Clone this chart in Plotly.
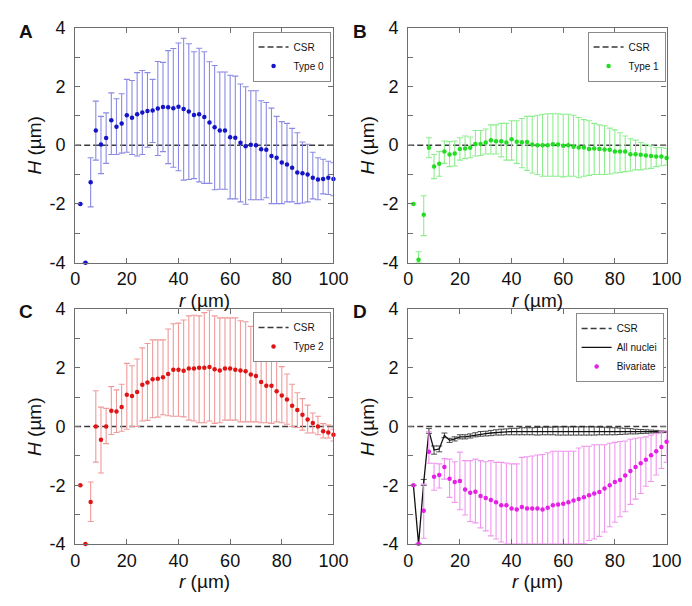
import plotly.graph_objects as go

# ---------------- data ----------------
r = [2, 4, 6, 8, 10, 12, 14, 16, 18, 20, 22, 24, 26, 28, 30, 32, 34, 36, 38, 40,
     42, 44, 46, 48, 50, 52, 54, 56, 58, 60, 62, 64, 66, 68, 70, 72, 74, 76, 78, 80,
     82, 84, 86, 88, 90, 92, 94, 96, 98, 100]
csr_r = [0, 100]
csr_h = [0, 0]

type0_h = [-2.0, -4.0, -1.26, 0.5, 0.02, 0.24, 0.85, 0.63, 0.74, 1.02, 0.93, 1.05, 1.11, 1.16, 1.18, 1.25, 1.3, 1.29, 1.26, 1.31,
           1.23, 1.15, 1.03, 1.05, 0.96, 0.77, 0.61, 0.5, 0.5, 0.27, 0.25, 0.08, -0.04, 0.01, 0.0, -0.14, -0.16, -0.37, -0.43, -0.59,
           -0.66, -0.77, -0.93, -0.96, -1.0, -1.11, -1.17, -1.15, -1.11, -1.15]
type0_hi = [-2.0, -4.0, -0.43, 1.5, 0.98, 1.1, 1.78, 1.58, 1.75, 2.24, 2.2, 2.47, 2.54, 2.47, 2.24, 2.85, 2.82, 3.22, 3.29, 3.48,
            3.64, 3.45, 3.18, 3.3, 3.18, 2.84, 2.71, 2.49, 2.49, 2.38, 2.35, 2.08, 1.99, 1.85, 1.85, 1.51, 1.45, 1.26, 0.98, 0.8,
            0.74, 0.57, 0.42, 0.11, 0.03, -0.24, -0.43, -0.48, -0.55, -0.6]
type0_lo = [-2.0, -4.0, -2.1, -0.51, -0.97, -0.62, -0.32, -0.32, -0.27, -0.24, -0.32, -0.37, -0.32, -0.07, 0.09, -0.35, -0.22, -0.63, -0.75, -0.87,
            -1.19, -1.17, -1.14, -1.25, -1.3, -1.3, -1.52, -1.5, -1.5, -1.83, -1.83, -1.93, -2.01, -1.86, -1.86, -1.86, -1.79, -1.99, -1.99, -1.99,
            -1.93, -1.93, -1.99, -1.97, -1.93, -1.83, -1.86, -1.66, -1.68, -1.72]

type1_h = [-2.0, -3.9, -2.37, -0.09, -0.73, -0.63, -0.22, -0.32, -0.28, -0.13, -0.11, -0.09, 0.04, 0.04, 0.09, 0.17, 0.13, 0.13, 0.09, 0.2,
           0.12, 0.1, 0.11, 0.02, 0.0, 0.0, 0.0, 0.03, 0.02, -0.02, 0.0, -0.05, -0.08, -0.08, -0.13, -0.11, -0.13, -0.15, -0.16, -0.22,
           -0.22, -0.22, -0.31, -0.31, -0.33, -0.35, -0.37, -0.39, -0.39, -0.44]
type1_hi = [-2.0, -3.63, -1.72, 0.25, -0.32, -0.22, 0.14, 0.12, 0.14, 0.25, 0.31, 0.28, 0.5, 0.5, 0.55, 0.69, 0.69, 0.74, 0.74, 0.83,
            0.83, 0.91, 0.98, 0.98, 1.02, 1.05, 1.07, 1.07, 1.07, 1.05, 1.05, 1.02, 0.94, 0.87, 0.83, 0.74, 0.69, 0.66, 0.58, 0.52,
            0.42, 0.31, 0.22, 0.17, 0.09, 0.03, -0.02, -0.08, -0.08, -0.11]
type1_lo = [-2.0, -4.0, -3.08, -0.43, -1.14, -1.06, -0.62, -0.73, -0.71, -0.51, -0.46, -0.43, -0.37, -0.35, -0.3, -0.3, -0.3, -0.4, -0.51, -0.51,
            -0.62, -0.77, -0.86, -0.95, -1.0, -1.06, -1.06, -1.06, -1.06, -1.08, -1.06, -1.06, -1.11, -1.06, -1.03, -1.0, -1.0, -1.0, -0.98, -0.95,
            -0.93, -0.9, -0.88, -0.84, -0.84, -0.81, -0.79, -0.73, -0.7, -0.68]

type2_h = [-2.0, -4.0, -2.57, 0.0, -0.45, 0.0, 0.54, 0.51, 0.67, 1.08, 1.04, 1.18, 1.42, 1.5, 1.61, 1.63, 1.68, 1.79, 1.93, 1.93,
           1.9, 1.98, 1.98, 2.0, 2.0, 2.03, 1.95, 1.91, 1.98, 1.98, 1.93, 1.91, 1.88, 1.77, 1.72, 1.52, 1.39, 1.39, 1.2, 1.06,
           0.92, 0.71, 0.56, 0.4, 0.24, 0.12, 0.0, -0.16, -0.2, -0.28]
type2_hi = [-2.0, -4.0, -1.89, 1.22, 0.66, 0.62, 1.36, 1.25, 1.44, 2.15, 2.07, 2.3, 2.68, 2.83, 2.95, 2.95, 2.95, 3.32, 3.5, 3.52,
            3.63, 3.77, 3.79, 3.77, 3.88, 3.96, 3.77, 3.7, 3.7, 3.7, 3.7, 3.6, 3.57, 3.41, 3.19, 2.92, 2.79, 2.57, 2.28, 2.04,
            1.79, 1.44, 1.15, 0.95, 0.73, 0.46, 0.35, 0.1, 0.05, -0.09]
type2_lo = [-2.0, -4.0, -3.23, -1.21, -1.58, -0.58, -0.27, -0.2, -0.16, -0.09, 0.0, 0.0, 0.19, 0.21, 0.3, 0.32, 0.4, 0.37, 0.35, 0.35,
            0.33, 0.22, 0.19, 0.13, 0.13, 0.19, 0.11, 0.13, 0.22, 0.22, 0.22, 0.16, 0.16, 0.16, 0.16, 0.13, 0.13, 0.11, 0.16, 0.13,
            0.08, 0.0, -0.03, -0.12, -0.22, -0.22, -0.28, -0.39, -0.39, -0.49]

all_h = [-2.0, -4.0, -1.9, -0.15, -0.8, -0.76, -0.3, -0.47, -0.42, -0.35, -0.35, -0.32, -0.28, -0.25, -0.24, -0.22, -0.2, -0.19, -0.18, -0.17,
         -0.17, -0.16, -0.16, -0.16, -0.16, -0.15, -0.15, -0.15, -0.15, -0.15, -0.15, -0.15, -0.15, -0.15, -0.15, -0.15, -0.15, -0.15, -0.16, -0.16,
         -0.16, -0.16, -0.16, -0.17, -0.17, -0.17, -0.17, -0.17, -0.18, -0.18]
all_err = [0.0, 0.0, 0.1, 0.08, 0.14, 0.1, 0.08, 0.07, 0.07, 0.07, 0.07, 0.07, 0.07, 0.08, 0.08, 0.09, 0.09, 0.1, 0.1, 0.11,
           0.11, 0.12, 0.12, 0.12, 0.13, 0.13, 0.13, 0.13, 0.14, 0.14, 0.14, 0.14, 0.14, 0.14, 0.14, 0.14, 0.13, 0.13, 0.12, 0.12,
           0.11, 0.1, 0.09, 0.08, 0.07, 0.06, 0.05, 0.04, 0.03, 0.02]

biv_h = [-2.0, -3.99, -2.87, -0.86, -1.71, -1.65, -1.38, -1.78, -1.89, -1.85, -2.14, -2.25, -2.22, -2.36, -2.43, -2.5, -2.58, -2.68, -2.68, -2.79,
         -2.82, -2.74, -2.79, -2.79, -2.79, -2.82, -2.76, -2.68, -2.65, -2.63, -2.58, -2.52, -2.47, -2.41, -2.34, -2.28, -2.23, -2.11, -2.0, -1.89,
         -1.82, -1.67, -1.51, -1.38, -1.25, -1.13, -0.98, -0.84, -0.7, -0.52]
biv_hi = [-2.0, -3.99, -1.96, -0.18, -1.25, -1.27, -1.09, -1.11, -1.2, -0.87, -1.16, -1.16, -1.11, -1.16, -1.2, -1.16, -1.22, -1.22, -1.24, -1.27,
          -1.27, -1.05, -1.03, -1.0, -0.97, -0.95, -0.89, -0.84, -0.84, -0.84, -0.84, -0.84, -0.73, -0.67, -0.67, -0.62, -0.62, -0.62, -0.57, -0.54,
          -0.51, -0.49, -0.43, -0.4, -0.38, -0.35, -0.29, -0.24, -0.18, -0.15]
biv_lo = [-2.0, -3.99, -3.8, -1.25, -2.17, -2.09, -1.79, -2.41, -2.58, -2.83, -3.01, -3.23, -3.28, -3.45, -3.55, -3.72, -3.83, -3.93, -4.0, -4.0,
          -4.0, -4.0, -4.0, -4.0, -4.0, -4.0, -4.0, -4.0, -4.0, -4.0, -4.0, -4.0, -3.99, -3.99, -3.88, -3.83, -3.74, -3.59, -3.41, -3.26,
          -3.07, -2.9, -2.65, -2.47, -2.28, -2.03, -1.87, -1.65, -1.43, -1.22]

panel_letters = ["A", "B", "C", "D"]
y_tick_vals = [-4, -3, -2, -1, 0, 1, 2, 3, 4]
y_tick_text = ["-4", "", "-2", "", "0", "", "2", "", "4"]
x_tick_vals = [0, 20, 40, 60, 80, 100]

# ---------------- layout geometry (pixels) ----------------
W, H = 692, 606
FONT = "Arial, Liberation Sans, sans-serif"
AX = "#6e6e6e"


def px_x(x):
    return x / W


def px_y(y):
    return 1 - y / H


panels = [
    dict(x0=64, x1=330, y0=10, y1=253),
    dict(x0=407, x1=673, y0=10, y1=253),
    dict(x0=64, x1=330, y0=301, y1=544),
    dict(x0=407, x1=673, y0=301, y1=544),
]

fig = go.Figure()


def err(h, hi, lo):
    plus = [b - a for a, b in zip(h, hi)]
    minus = [a - b for a, b in zip(h, lo)]
    return plus, minus


def add_csr(i):
    ax = "" if i == 0 else str(i + 1)
    fig.add_trace(go.Scatter(
        x=csr_r, y=csr_h, mode="lines", name="CSR",
        line=dict(color="#3a3a3a", width=1.5, dash="6px,3px"),
        xaxis="x" + ax, yaxis="y" + ax, legend="legend" + ax,
    ))


def add_points(i, h, hi, lo, name, mcol, ecol):
    ax = "" if i == 0 else str(i + 1)
    plus, minus = err(h, hi, lo)
    fig.add_trace(go.Scatter(
        x=r, y=h, mode="markers", name=name,
        marker=dict(color=mcol, size=4.5),
        error_y=dict(type="data", symmetric=False, array=plus, arrayminus=minus,
                     color=ecol, thickness=1.1, width=3),
        cliponaxis=False,
        xaxis="x" + ax, yaxis="y" + ax, legend="legend" + ax,
    ))


add_csr(0)
add_points(0, type0_h, type0_hi, type0_lo, "Type 0", "#1414c8", "#8a8ae4")
add_csr(1)
add_points(1, type1_h, type1_hi, type1_lo, "Type 1", "#22dd22", "#8eee8e")
add_csr(2)
add_points(2, type2_h, type2_hi, type2_lo, "Type 2", "#e01414", "#f09a9a")
add_csr(3)
fig.add_trace(go.Scatter(
    x=r, y=all_h, mode="lines", name="All nuclei",
    line=dict(color="#111111", width=1.3),
    error_y=dict(type="data", array=all_err, color="#222222", thickness=0.8, width=3),
    xaxis="x4", yaxis="y4", legend="legend4",
))
add_points(3, biv_h, biv_hi, biv_lo, "Bivariate", "#e61ee6", "#f096f0")

annotations = []
layout_axes = {}
legend_boxes = [
    dict(x=327, y=14),
    dict(x=672, y=14),
    dict(x=327, y=304),
    dict(x=670, y=305),
]
letter_pos = [(13, 14), (357, 14), (13, 303), (357, 303)]

for i, p in enumerate(panels):
    sfx = "" if i == 0 else str(i + 1)
    layout_axes["xaxis" + sfx] = dict(
        domain=[px_x(p["x0"]), px_x(p["x1"])], range=[0, 100],
        anchor="y" + sfx, tickvals=x_tick_vals, ticks="inside", ticklen=5,
        tickcolor=AX, showline=True, linecolor=AX, linewidth=1.2, mirror="ticks",
        showgrid=False, zeroline=False, tickfont=dict(size=18, color="#111", family=FONT),
        ticklabelstandoff=0,
    )
    layout_axes["yaxis" + sfx] = dict(
        domain=[px_y(p["y1"]), px_y(p["y0"])], range=[-4, 4],
        anchor="x" + sfx, tickvals=y_tick_vals, ticktext=y_tick_text, ticks="inside",
        ticklen=5, tickcolor=AX, showline=True, linecolor=AX, linewidth=1.2,
        mirror="ticks", showgrid=False, zeroline=False,
        tickfont=dict(size=18, color="#111", family=FONT), ticklabelstandoff=5,
    )
    lb = legend_boxes[i]
    layout_axes["legend" + sfx] = dict(
        x=px_x(lb["x"]), y=px_y(lb["y"]), xanchor="right", yanchor="top",
        bgcolor="white", bordercolor="#8a8a8a", borderwidth=1,
        font=dict(size=10, color="#111", family=FONT), itemwidth=30,
        tracegroupgap=0, traceorder="normal",
    )
    # axis titles
    annotations.append(dict(
        text="<i>H</i> (µm)", x=px_x(p["x0"] - 42), y=px_y((p["y0"] + p["y1"]) / 2),
        xref="paper", yref="paper", showarrow=False, textangle=-90,
        font=dict(size=19, color="#111", family=FONT), xanchor="center", yanchor="middle",
    ))
    annotations.append(dict(
        text="<i>r</i> (µm)", x=px_x((p["x0"] + p["x1"]) / 2), y=px_y(p["y1"] + 26),
        xref="paper", yref="paper", showarrow=False,
        font=dict(size=19, color="#111", family=FONT), xanchor="center", yanchor="top",
    ))
    lx, ly = letter_pos[i]
    annotations.append(dict(
        text="<b>" + panel_letters[i] + "</b>", x=px_x(lx), y=px_y(ly),
        xref="paper", yref="paper", showarrow=False,
        font=dict(size=19, color="#111", family=FONT), xanchor="center", yanchor="middle",
    ))

fig.update_layout(
    width=W, height=H, margin=dict(l=0, r=0, t=0, b=0),
    paper_bgcolor="white", plot_bgcolor="white",
    font=dict(family=FONT, color="#111"),
    annotations=annotations,
    **layout_axes,
)

fig.write_html("out.html")
